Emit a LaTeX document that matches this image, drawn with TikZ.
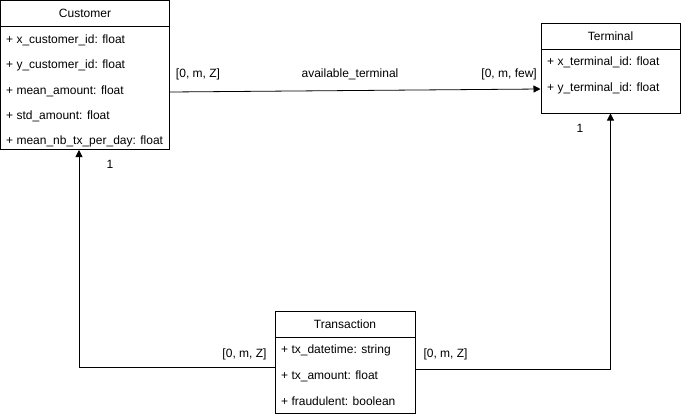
\documentclass[tikz,border=0pt]{standalone}
\usepackage{fontspec}
\setmainfont{Liberation Sans}
\usetikzlibrary{arrows.meta}
\begin{document}
\begin{tikzpicture}[x=1pt,y=-1pt,
  box/.style={draw=black,line width=1pt,fill=white,inner sep=0pt},
  attr/.style={anchor=west,inner sep=0pt,font=\fontsize{12}{14}\selectfont},
  title/.style={inner sep=0pt,font=\fontsize{12}{14}\selectfont},
  lbl/.style={inner sep=0pt,font=\fontsize{12}{14}\selectfont},
  arr/.style={draw=black,line width=0.8pt,-{Triangle[length=7pt,width=7pt]}}]
\useasboundingbox (0,0) rectangle (681,418);
% Customer
\node[box,minimum width=169pt,minimum height=149pt] (cust) at (85,75) {};
\draw[line width=1pt] (cust.west |- 0,26) -- (cust.east |- 0,26);
\node[title] (custt) at (85,13) {Customer};
\node[attr] (c1) at (6,40) {+ x\_customer\_id: float};
\node[attr] (c2) at (6,65.5) {+ y\_customer\_id: float};
\node[attr] (c3) at (6,91) {+ mean\_amount: float};
\node[attr] (c4) at (6,116.5) {+ std\_amount: float};
\node[attr] (c5) at (6,141) {+ mean\_nb\_tx\_per\_day: float};
% Terminal
\node[box,minimum width=139pt,minimum height=90pt] (term) at (610.5,68) {};
\draw[line width=1pt] (term.west |- 0,49) -- (term.east |- 0,49);
\node[title] (termt) at (610.5,36) {Terminal};
\node[attr] (t1) at (547,62) {+ x\_terminal\_id: float};
\node[attr] (t2) at (547,88) {+ y\_terminal\_id: float};
% Transaction
\node[box,minimum width=140pt,minimum height=102pt] (trans) at (345,362) {};
\draw[line width=1pt] (trans.west |- 0,337) -- (trans.east |- 0,337);
\node[title] (transt) at (345,324) {Transaction};
\node[attr] (r1) at (281,350) {+ tx\_datetime: string};
\node[attr] (r2) at (281,376) {+ tx\_amount: float};
\node[attr] (r3) at (281,401.5) {+ fraudulent: boolean};
% Connectors
\draw[arr] ([yshift=-17pt]cust.east) -- ([yshift=-21pt]term.west);
\draw[arr] ([yshift=-5pt]trans.west) -| ([xshift=-6pt]cust.south);
\draw[arr] ([yshift=-7pt]trans.east) -| (term.south);
% Labels
\node[lbl] (l1) at (198,74.5) {[0, m, Z]};
\node[lbl] (l2) at (350,74.5) {available\_terminal};
\node[lbl,anchor=east] (l3) at (537,74.5) {[0, m, few]};
\node[lbl] (l4) at (110,164) {1};
\node[lbl] (l5) at (580,128) {1};
\node[lbl] (l6) at (244.5,354.5) {[0, m, Z]};
\node[lbl] (l7) at (445.5,354.5) {[0, m, Z]};
\end{tikzpicture}
\end{document}
